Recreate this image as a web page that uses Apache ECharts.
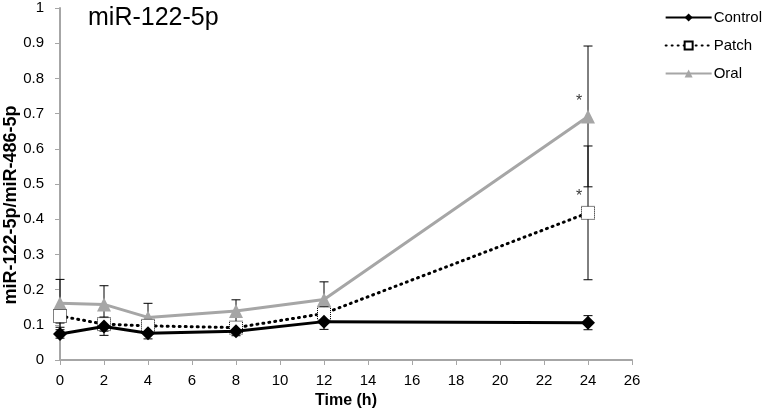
<!DOCTYPE html>
<html><head><meta charset="utf-8">
<script src="https://cdn.jsdelivr.net/npm/echarts@6/dist/echarts.min.js"></script>
<style>html,body{margin:0;padding:0;background:#fff}#c{width:771px;height:415px}</style>
</head><body><div id="c"></div>
<script>
var times = [0, 2, 4, 8, 12, 24];
var controlVals = [0.074, 0.095, 0.076, 0.082, 0.109, 0.106];
var controlErr  = [0.012, 0.025, 0.016, 0.013, 0.022, 0.02];
var patchVals   = [0.125, 0.102, 0.097, 0.092, 0.132, 0.418];
var patchErr    = [0.02, 0.02, 0.01, 0.012, 0.02, 0.19];
var oralVals    = [0.161, 0.158, 0.121, 0.139, 0.172, 0.692];
var oralErr     = [0.068, 0.053, 0.04, 0.032, 0.05, 0.2];
var starX = [24, 24];
var starY = [0.735, 0.465];
var yAxisName = 'miR-122-5p/miR-486-5p';
var xAxisName = 'Time (h)';
var titleText = 'miR-122-5p';

var font = 'Liberation Sans, Arial, sans-serif';
function pts(v){ return times.map(function(t,i){return [t, v[i]];}); }
function errData(v,e){ return times.map(function(t,i){return [t, v[i]-e[i], v[i]+e[i]];}); }
function errSeries(v,e,z){
  return {type:'custom', z:z, silent:true, data: errData(v,e),
    renderItem: function(params, api){
      var lo = api.coord([api.value(0), api.value(1)]);
      var hi = api.coord([api.value(0), api.value(2)]);
      var w = 4.5;
      var st = {stroke:'#000', lineWidth:1};
      return {type:'group', children:[
        {type:'line', shape:{x1:lo[0],y1:lo[1],x2:hi[0],y2:hi[1]}, style:st},
        {type:'line', shape:{x1:lo[0]-w,y1:lo[1],x2:lo[0]+w,y2:lo[1]}, style:st},
        {type:'line', shape:{x1:hi[0]-w,y1:hi[1],x2:hi[0]+w,y2:hi[1]}, style:st}
      ]};
    }};
}
var chart = echarts.init(document.getElementById('c'), null, {renderer:'canvas'});
chart.setOption({
  animation:false,
  backgroundColor:'#fff',
  title:{text:titleText, left:83, top:1, textStyle:{fontFamily:font, fontSize:25, fontWeight:'normal', color:'#000'}},
  legend:{orient:'vertical', right:4, top:5, itemWidth:46, itemHeight:10, itemGap:13,
    textStyle:{fontFamily:font, fontSize:15, color:'#000', padding:[0,0,0,-3]},
    data:['Control','Patch','Oral']},
  grid:{left:60, right:139, top:8, bottom:55},
  graphic:[{type:'text', x:11, y:205, rotation:Math.PI/2,
    style:{text:yAxisName, fontFamily:font, fontSize:18, fontWeight:'bold', fill:'#000',
      textAlign:'center', textVerticalAlign:'middle'}}],
  xAxis:{type:'value', min:0, max:26, interval:2,
    name:xAxisName, nameLocation:'middle', nameGap:33,
    nameTextStyle:{fontFamily:font, fontSize:16, fontWeight:'bold', color:'#000'},
    axisLine:{lineStyle:{color:'#a6a6a6', width:2}},
    axisTick:{show:true, length:5, lineStyle:{color:'#a6a6a6', width:1}},
    axisLabel:{fontFamily:font, fontSize:15, color:'#000', margin:13},
    splitLine:{show:false}},
  yAxis:{type:'value', min:0, max:1, interval:0.1,
    axisLine:{show:true, lineStyle:{color:'#a6a6a6', width:2}},
    axisTick:{show:true, length:5, lineStyle:{color:'#a6a6a6', width:1}},
    axisLabel:{fontFamily:font, fontSize:15, color:'#000', margin:16,
      formatter:function(v){return String(Math.round(v*10)/10);}},
    splitLine:{show:false}},
  series:[
    errSeries(controlVals, controlErr, 1),
    errSeries(patchVals, patchErr, 1),
    errSeries(oralVals, oralErr, 1),
    {name:'Oral', type:'line', z:3, data:pts(oralVals), symbol:'triangle', symbolSize:14,
      lineStyle:{color:'#a6a6a6', width:3}, itemStyle:{color:'#a6a6a6', borderWidth:0}},
    {name:'Patch', type:'line', z:4, data:pts(patchVals), symbol:'rect', symbolSize:13,
      lineStyle:{color:'#000', width:3, type:[1,5], cap:'round'},
      itemStyle:{color:'#fff', borderColor:'#000', borderWidth:1, borderType:'dotted'}},
    {name:'Control', type:'line', z:5, data:pts(controlVals), symbol:'diamond', symbolSize:14,
      lineStyle:{color:'#000', width:3}, itemStyle:{color:'#000'}},
    {type:'scatter', z:6, silent:true, symbolSize:0,
      data: starX.map(function(x,i){return [x, starY[i]];}),
      label:{show:true, formatter:'*', offset:[-9,0], fontFamily:font, fontSize:16, color:'#000'}}
  ]
});
</script></body></html>
